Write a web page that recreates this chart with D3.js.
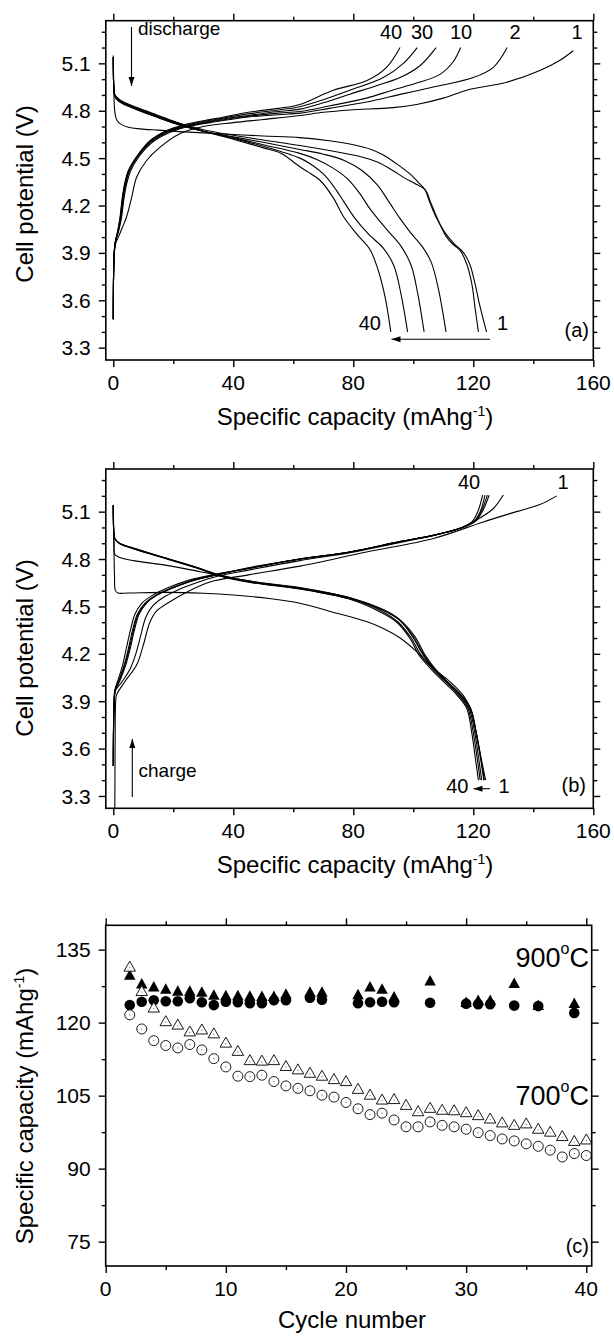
<!DOCTYPE html>
<html><head><meta charset="utf-8">
<script src="https://cdn.jsdelivr.net/npm/d3@7"></script>
<style>
body{margin:0;background:#fff}
text{font-family:Arial,"Liberation Sans",sans-serif;fill:#000}
</style></head>
<body><svg id="fig" width="614" height="1336"></svg>
<script>
// ---------------- DATA ----------------
// tick labels
const capTicks = [0, 40, 80, 120, 160];
const capMinor = [20, 60, 100, 140];
const voltTicks = [3.3, 3.6, 3.9, 4.2, 4.5, 4.8, 5.1];
const voltMinor = [3.4, 3.5, 3.7, 3.8, 4.0, 4.1, 4.3, 4.4, 4.6, 4.7, 4.9, 5.0, 5.2, 5.3];
const cycleTicks = [0, 10, 20, 30, 40];
const cycleMinor = [5, 15, 25, 35];
const specTicks = [75, 90, 105, 120, 135];
const specMinor = [82.5, 97.5, 112.5, 127.5];

// panel (a) 700 C: charge curves [capacity mAh/g, potential V]
const a_chg_1 = [[0,3.48],[0.3,3.88],[0.8,3.96],[1.7,4.0],[3,4.06],[4.4,4.127],[6.1,4.25],[7.8,4.38],[11.1,4.485],[15.6,4.57],[22.2,4.655],[30,4.70],[40,4.725],[50,4.745],[62.2,4.77],[70,4.79],[78.9,4.805],[93.3,4.82],[101.1,4.84],[110,4.88],[117.8,4.93],[131.1,4.98],[142.2,5.055],[148.9,5.12],[153.3,5.18]];
const a_chg_2 = [[0,3.48],[0.2,3.85],[0.6,3.96],[1.8,4.04],[2.7,4.12],[3.6,4.25],[4.5,4.34],[5.8,4.42],[8.6,4.51],[13,4.60],[18.6,4.66],[24,4.695],[34,4.73],[45,4.76],[55,4.775],[62.2,4.785],[72,4.815],[84.4,4.855],[96,4.905],[106.7,4.95],[120,5.01],[126.7,5.075],[131.3,5.20]];
const a_chg_10 = [[0,3.48],[0.2,3.85],[0.6,3.96],[1.7,4.04],[2.5,4.12],[3.4,4.25],[4.2,4.34],[5.4,4.42],[8.2,4.51],[12.6,4.60],[18.2,4.665],[23.6,4.698],[34,4.735],[45,4.765],[55,4.785],[62.2,4.795],[72,4.83],[84.4,4.88],[93,4.93],[101.1,4.975],[108.9,5.03],[113.3,5.11],[115.8,5.20]];
const a_chg_20 = [[0,3.48],[0.2,3.85],[0.6,3.96],[1.6,4.04],[2.4,4.12],[3.2,4.25],[4.0,4.34],[5.2,4.42],[8.0,4.51],[12.4,4.605],[18,4.668],[23.5,4.70],[34,4.74],[45,4.77],[55,4.795],[62.2,4.81],[70,4.85],[78.9,4.905],[88,4.96],[95.6,5.01],[102.2,5.085],[107.6,5.20]];
const a_chg_30 = [[0,3.48],[0.2,3.85],[0.6,3.96],[1.5,4.04],[2.3,4.12],[3.1,4.25],[3.9,4.34],[5.1,4.42],[7.9,4.51],[12.3,4.605],[17.9,4.67],[23.4,4.705],[34,4.745],[45,4.78],[55,4.805],[62.2,4.825],[70,4.87],[78.9,4.93],[90,5.01],[96.7,5.10],[101.3,5.20]];
const a_chg_40 = [[0,3.48],[0.2,3.85],[0.6,3.96],[1.5,4.04],[2.2,4.12],[3.0,4.25],[3.8,4.34],[5,4.42],[7.8,4.51],[12.2,4.61],[17.8,4.675],[23.3,4.71],[34,4.75],[45,4.79],[55,4.815],[62.2,4.84],[73.3,4.93],[84.4,4.99],[91.1,5.075],[95.6,5.20]];
// panel (a): discharge curves
const a_dis_1 = [[0,5.15],[0.15,4.95],[0.3,4.85],[0.6,4.78],[1.2,4.74],[2.5,4.715],[5,4.695],[9,4.685],[15,4.677],[22,4.668],[30,4.66],[40,4.65],[50,4.64],[62.2,4.63],[72,4.61],[80,4.585],[86,4.555],[90,4.52],[94,4.47],[98.9,4.40],[101.5,4.35],[103.9,4.30],[105.5,4.22],[107.5,4.13],[110.5,4.03],[113.5,3.96],[116.8,3.90],[118.8,3.83],[120.4,3.72],[122,3.58],[123.3,3.48],[124.4,3.40]];
const a_dis_2 = [[0,5.14],[0.15,4.95],[0.4,4.9],[1,4.875],[3,4.85],[8,4.81],[15,4.76],[22,4.72],[30,4.68],[40,4.645],[50,4.615],[62.2,4.58],[72,4.548],[82.2,4.51],[88,4.475],[93.3,4.42],[97,4.375],[100.5,4.34],[103.9,4.30],[105.8,4.22],[107.8,4.127],[111.1,4.0],[113.5,3.95],[115.6,3.916],[117.8,3.83],[119.5,3.705],[120.6,3.55],[121.7,3.40]];
const a_dis_10 = [[0,5.14],[0.15,4.95],[0.4,4.9],[1,4.875],[3,4.845],[8,4.805],[15,4.755],[22,4.71],[30,4.67],[40,4.635],[50,4.60],[62.2,4.555],[70,4.525],[77,4.485],[83,4.42],[88,4.33],[92,4.22],[95.5,4.12],[99,4.03],[103,3.94],[106,3.84],[108.5,3.66],[110.9,3.40]];
const a_dis_20 = [[0,5.14],[0.15,4.95],[0.4,4.9],[1,4.88],[3,4.85],[8,4.81],[15,4.76],[22,4.71],[30,4.67],[40,4.63],[50,4.585],[62.2,4.53],[68,4.49],[73,4.44],[78,4.37],[82,4.28],[85.5,4.18],[88,4.12],[92,4.03],[96,3.94],[99.3,3.82],[101.5,3.64],[103.6,3.40]];
const a_dis_30 = [[0,5.14],[0.15,4.95],[0.4,4.9],[1,4.885],[3,4.855],[8,4.815],[15,4.765],[22,4.715],[30,4.67],[40,4.625],[50,4.575],[62.2,4.50],[66,4.46],[70,4.40],[73.5,4.32],[77,4.22],[80.5,4.12],[85,4.02],[90,3.93],[93.5,3.82],[96,3.63],[98.1,3.40]];
const a_dis_40 = [[0,5.14],[0.15,4.95],[0.4,4.91],[1,4.89],[3,4.86],[8,4.82],[15,4.77],[22,4.72],[30,4.67],[40,4.62],[50,4.565],[56,4.53],[62.2,4.445],[66,4.40],[68.9,4.36],[73.3,4.25],[76.7,4.13],[81.1,4.02],[85.6,3.92],[88.3,3.79],[90.6,3.62],[92.5,3.40]];

// panel (b) 900 C: charge curves
const b_chg_1 = [[0.5,3.15],[0.6,3.6],[0.8,3.9],[1.1,3.94],[3.9,4.025],[7.8,4.13],[10,4.255],[12.2,4.40],[14.4,4.47],[18.9,4.53],[24.4,4.59],[32.2,4.655],[45,4.70],[62.2,4.755],[84.4,4.845],[106.7,4.93],[123.3,5.035],[134.4,5.10],[142.2,5.145],[147.8,5.20]];
const b_chg_2 = [[0,3.49],[0.3,3.88],[0.8,3.97],[2.8,4.02],[5.5,4.10],[7.5,4.2],[9.2,4.32],[10.8,4.43],[13,4.50],[16.5,4.555],[21,4.60],[27,4.645],[34.4,4.69],[45,4.73],[62.2,4.79],[78.9,4.84],[95.6,4.905],[106.7,4.95],[115.6,4.995],[122.2,5.06],[126.7,5.12],[130,5.205]];
const b_chg_10 = [[0,3.49],[0.25,3.87],[0.7,3.97],[2.2,4.03],[4,4.12],[5.6,4.23],[6.9,4.34],[8.6,4.45],[11,4.52],[14.5,4.57],[19,4.61],[26,4.66],[34.4,4.70],[45,4.74],[62.2,4.80],[78.9,4.845],[95.6,4.91],[106.7,4.95],[115.6,4.995],[120.5,5.035],[123,5.10],[125.3,5.205]];
const b_chg_20 = [[0,3.49],[0.22,3.86],[0.6,3.97],[2,4.03],[3.7,4.12],[5.3,4.23],[6.6,4.34],[8.3,4.45],[10.8,4.52],[14.2,4.57],[18.8,4.61],[25.8,4.66],[34.4,4.70],[45,4.742],[62.2,4.80],[78.9,4.845],[95.6,4.91],[106.7,4.95],[115.6,4.995],[120.2,5.035],[122.6,5.10],[124.7,5.205]];
const b_chg_30 = [[0,3.49],[0.2,3.86],[0.6,3.97],[1.8,4.03],[3.5,4.12],[5,4.23],[6.3,4.34],[8,4.45],[10.5,4.52],[14,4.57],[18.5,4.61],[25.5,4.66],[34.4,4.70],[45,4.745],[62.2,4.80],[78.9,4.845],[95.6,4.91],[106.7,4.95],[115.6,4.995],[120,5.035],[122.3,5.10],[123.9,5.205]];
const b_chg_40 = [[0,3.49],[0.2,3.85],[0.5,3.97],[1.5,4.03],[3,4.12],[4.4,4.24],[5.6,4.34],[7.2,4.45],[9.5,4.52],[13,4.57],[17.8,4.615],[25,4.665],[34.4,4.705],[45,4.74],[62.2,4.80],[78.9,4.845],[95.6,4.91],[106.7,4.95],[115.6,4.995],[119.5,5.035],[121.5,5.10],[123.1,5.205]];
// panel (b): discharge curves
const b_dis_1 = [[0,5.14],[0.2,4.9],[0.4,4.7],[0.7,4.6],[1.5,4.585],[5,4.585],[17.8,4.589],[30,4.583],[40,4.572],[52,4.55],[62.2,4.52],[72,4.47],[84.4,4.404],[90,4.36],[95.6,4.30],[101.1,4.214],[106.7,4.108],[112.2,4.024],[116.7,3.935],[119.3,3.84],[121,3.70],[122.5,3.55],[124.1,3.40]];
const b_dis_2 = [[0,5.14],[0.2,4.9],[0.5,4.83],[1.5,4.815],[6.7,4.79],[17.8,4.76],[28.9,4.72],[34.4,4.70],[45.6,4.66],[62.2,4.615],[78.9,4.555],[90,4.475],[95.6,4.41],[100,4.31],[103.3,4.20],[106.7,4.11],[111.1,4.025],[115.6,3.945],[119,3.86],[121,3.70],[122.4,3.55],[123.7,3.40]];
const b_dis_10 = [[0,5.14],[0.2,4.96],[0.5,4.93],[2,4.90],[6.7,4.87],[17.8,4.805],[28.9,4.74],[34.4,4.705],[45.6,4.66],[62.2,4.62],[78.9,4.555],[90,4.48],[95.6,4.415],[100.5,4.31],[104,4.19],[107.3,4.105],[111.6,4.02],[115.8,3.94],[119,3.855],[120.9,3.70],[122.3,3.55],[123.5,3.40]];
const b_dis_20 = [[0,5.14],[0.2,4.96],[0.5,4.93],[2,4.90],[6.7,4.868],[17.8,4.805],[28.9,4.74],[34.4,4.70],[45.6,4.655],[62.2,4.615],[78.9,4.55],[90,4.475],[95.6,4.41],[100,4.30],[103.3,4.19],[106.7,4.108],[111.1,4.024],[115.5,3.94],[118.6,3.855],[120.5,3.70],[121.7,3.55],[122.8,3.40]];
const b_dis_30 = [[0,5.14],[0.2,4.96],[0.5,4.93],[2,4.90],[6.7,4.866],[17.8,4.803],[28.9,4.738],[34.4,4.70],[45.6,4.655],[62.2,4.612],[78.9,4.548],[89.5,4.47],[95,4.40],[99.3,4.30],[102.6,4.19],[106.2,4.11],[110.6,4.025],[115,3.94],[118.2,3.855],[120,3.70],[121.2,3.55],[122.3,3.40]];
const b_dis_40 = [[0,5.14],[0.2,4.96],[0.5,4.93],[2,4.90],[6.7,4.865],[17.8,4.80],[28.9,4.735],[34.4,4.698],[45.6,4.652],[62.2,4.61],[78.9,4.545],[89,4.465],[94.5,4.40],[98.8,4.30],[102,4.19],[105.6,4.11],[110,4.025],[114.5,3.94],[117.8,3.855],[119.5,3.70],[120.6,3.55],[121.7,3.40]];

// panel (c): specific capacity vs cycle number
const cycles700 = [2,3,4,5,6,7,8,9,10,11,12,13,14,15,16,17,18,19,20,21,22,23,24,25,26,27,28,29,30,31,32,33,34,35,36,37,38,39,40];
const charge700 = [131.6,126.6,123.2,120.4,119.7,118.3,118.7,117.9,116.0,114.3,112.4,112.3,112.4,111.2,110.5,109.8,109.2,108.5,108.1,106.5,105.3,104.3,104.4,103.2,101.9,102.6,102.2,102.1,101.7,101.1,100.4,99.6,99.1,99.4,98.3,97.7,96.8,95.8,96.1];
const discharge700 = [121.6,118.7,116.3,115.3,114.8,115.5,114.4,112.6,110.9,109.0,108.9,109.2,107.9,107.0,106.5,106.0,105.1,104.7,103.6,102.3,101.1,101.4,100.0,98.6,98.6,99.6,98.9,98.6,98.1,97.4,96.8,96.1,95.7,95.1,94.6,93.8,92.4,93.1,92.7];
const cycles900 = [2,3,4,5,6,7,8,9,10,11,12,13,14,15,17,18,21,22,23,24,27,30,31,32,34,36,39];
const charge900 = [129.9,128.1,127.5,127.0,126.6,126.6,126.4,125.8,125.7,125.7,125.6,125.5,125.5,126.0,126.4,126.4,125.9,127.5,127.0,125.4,128.7,124.3,124.7,124.7,128.2,123.7,124.1];
const discharge900 = [123.6,124.3,124.6,124.4,124.4,125.0,124.2,123.6,124.3,124.2,124.0,124.0,124.6,124.6,125.1,124.7,124.0,124.2,124.3,124.2,124.1,123.9,123.8,123.8,123.5,123.4,122.0];

// ---------------- DRAWING ----------------
const svg = d3.select("#fig");

function drawFrame(g, x, y, xT, xM, yT, yM, fmtY) {
  const [x0, x1] = x.range(), [y0, y1] = y.range();
  const mk = (make, scale, major, minor, tr) => {
    const a1 = g.append("g").attr("transform", tr).call(make(scale).tickValues(major).tickSize(7).tickFormat(""));
    const a2 = g.append("g").attr("transform", tr).call(make(scale).tickValues(minor).tickSize(4).tickFormat(""));
    [a1, a2].forEach(a => { a.select(".domain").remove(); a.selectAll("line").attr("stroke","#000").attr("stroke-width",1.4); });
  };
  mk(d3.axisBottom, x, xT, xM, `translate(0,${y0})`);
  mk(d3.axisTop, x, xT, xM, `translate(0,${y1})`);
  mk(d3.axisLeft, y, yT, yM, `translate(${x0},0)`);
  mk(d3.axisRight, y, yT, yM, `translate(${x1},0)`);
  g.append("rect").attr("x", x0).attr("y", y1).attr("width", x1 - x0).attr("height", y0 - y1)
    .attr("fill", "none").attr("stroke", "#000").attr("stroke-width", 1.6);
  g.selectAll(null).data(xT).enter().append("text")
    .attr("x", d => x(d)).attr("y", y0 + 29.5).attr("text-anchor", "middle")
    .attr("font-size", 21).text(d => d);
  g.selectAll(null).data(yT).enter().append("text")
    .attr("x", x0 - 15).attr("y", d => y(d)).attr("dy", "0.36em").attr("text-anchor", "end")
    .attr("font-size", 21).text(fmtY);
}

function xTitle(g, cx, yb, main, sup) {
  const t = g.append("text").attr("x", cx).attr("y", yb).attr("text-anchor", "middle").attr("font-size", 24);
  t.append("tspan").text(main);
  if (sup) {
    t.append("tspan").attr("dy", -9).attr("font-size", 14).text(sup);
    t.append("tspan").attr("dy", 9).text(")");
  }
}
function yTitle(g, xb, cy, main, sup) {
  const t = g.append("text").attr("transform", `translate(${xb},${cy}) rotate(-90)`)
    .attr("text-anchor", "middle").attr("font-size", 24);
  t.append("tspan").text(main);
  if (sup) {
    t.append("tspan").attr("dy", -9).attr("font-size", 14).text(sup);
    t.append("tspan").attr("dy", 9).text(")");
  }
}
function arrow(g, x1, y1, x2, y2) {
  g.append("line").attr("x1", x1).attr("y1", y1).attr("x2", x2).attr("y2", y2)
    .attr("stroke", "#000").attr("stroke-width", 1.1);
  const ang = Math.atan2(y2 - y1, x2 - x1), L = 9, w = 3;
  const bx = x2 - L * Math.cos(ang), by = y2 - L * Math.sin(ang);
  const px = -Math.sin(ang) * w, py = Math.cos(ang) * w;
  g.append("path").attr("d", `M${x2},${y2}L${bx + px},${by + py}L${bx - px},${by - py}Z`).attr("fill", "#000");
}
function label(g, x, y, txt, anchor, size) {
  g.append("text").attr("x", x).attr("y", y).attr("text-anchor", anchor || "middle")
    .attr("font-size", size || 20).text(txt);
}

const fmtV = d3.format(".1f");

function voltagePanel(id, top, bottom, charges, discharges) {
  const g = svg.append("g");
  const x = d3.scaleLinear().domain([-2.5, 160]).range([105.8, 593.3]);
  const y = d3.scaleLinear().domain([3.222, 5.37]).range([bottom, top]);
  g.append("clipPath").attr("id", id).append("rect")
    .attr("x", 105.8).attr("y", top).attr("width", 593.3 - 105.8).attr("height", bottom - top);
  const line = d3.line().x(d => x(d[0])).y(d => y(d[1])).curve(d3.curveCatmullRom.alpha(0.5));
  const cg = g.append("g").attr("clip-path", `url(#${id})`);
  charges.concat(discharges).forEach(c => {
    cg.append("path").attr("d", line(c)).attr("fill", "none").attr("stroke", "#000").attr("stroke-width", 1.1);
  });
  drawFrame(g, x, y, capTicks, capMinor, voltTicks, voltMinor, fmtV);
  return { g, x, y };
}

const A = voltagePanel("clipA", 20.7, 360,
  [a_chg_1, a_chg_2, a_chg_10, a_chg_20, a_chg_30, a_chg_40],
  [a_dis_1, a_dis_2, a_dis_10, a_dis_20, a_dis_30, a_dis_40]);
xTitle(A.g, 355, 425, "Specific capacity (mAhg", "-1");
yTitle(A.g, 33, 194, "Cell potential (V)");
label(A.g, 138, 35, "discharge", "start", 19);
arrow(A.g, 131.5, 27, 131.5, 86);
label(A.g, 391, 38.5, "40"); label(A.g, 422, 38.5, "30"); label(A.g, 461, 38.5, "10");
label(A.g, 515, 38.5, "2"); label(A.g, 577, 38.5, "1");
label(A.g, 381, 330, "40", "end"); label(A.g, 497, 330, "1", "start");
arrow(A.g, 490, 339.3, 391.5, 339.3);
label(A.g, 589, 337, "(a)", "end");

const B = voltagePanel("clipB", 469, 808.3,
  [b_chg_1, b_chg_2, b_chg_10, b_chg_20, b_chg_30, b_chg_40],
  [b_dis_1, b_dis_2, b_dis_10, b_dis_20, b_dis_30, b_dis_40]);
xTitle(B.g, 355, 873, "Specific capacity (mAhg", "-1");
yTitle(B.g, 33, 648, "Cell potential (V)");
label(B.g, 138.5, 776.5, "charge", "start", 19);
arrow(B.g, 132.3, 797, 132.3, 739);
label(B.g, 469, 489, "40"); label(B.g, 563, 489, "1");
label(B.g, 468.5, 793, "40", "end"); label(B.g, 498.5, 793, "1", "start");
arrow(B.g, 490, 788.7, 473.5, 788.7);
label(B.g, 586, 791.5, "(b)", "end");

{
  const g = svg.append("g");
  const x = d3.scaleLinear().domain([0, 40.45]).range([105.7, 591.7]);
  const y = d3.scaleLinear().domain([70, 140]).range([1266, 925.3]);
  const tri = (cx, cy, w, h) => `M${cx},${cy - h / 2}L${cx + w / 2},${cy + h / 2}L${cx - w / 2},${cy + h / 2}Z`;
  const d900 = cycles900.map((c, i) => ({ c, ch: charge900[i], dis: discharge900[i] }));
  const d700 = cycles700.map((c, i) => ({ c, ch: charge700[i], dis: discharge700[i] }));
  g.selectAll(null).data(d900).enter().append("path")
    .attr("d", d => tri(x(d.c), y(d.ch), 11.5, 10.5)).attr("fill", "#000");
  g.selectAll(null).data(d900).enter().append("circle")
    .attr("cx", d => x(d.c)).attr("cy", d => y(d.dis)).attr("r", 5.3).attr("fill", "#000");
  g.selectAll(null).data(d700).enter().append("path")
    .attr("d", d => tri(x(d.c), y(d.ch), 11.5, 10)).attr("fill", "#fff").attr("stroke", "#000").attr("stroke-width", 0.9);
  g.selectAll(null).data(d700).enter().append("circle")
    .attr("cx", d => x(d.c)).attr("cy", d => y(d.dis)).attr("r", 5).attr("fill", "#fff").attr("stroke", "#000").attr("stroke-width", 0.9);
  g.selectAll(null).data(d700).enter().append("circle")
    .attr("cx", d => x(d.c)).attr("cy", d => y(d.dis)).attr("r", 0.6).attr("fill", "#666");
  g.selectAll(null).data(d700).enter().append("circle")
    .attr("cx", d => x(d.c)).attr("cy", d => y(d.ch) + 1.5).attr("r", 0.6).attr("fill", "#666");
  drawFrame(g, x, y, cycleTicks, cycleMinor, specTicks, specMinor, d => d);
  xTitle(g, 352, 1328, "Cycle number");
  yTitle(g, 33, 1106, "Specific capacity (mAhg", "-1");
  const t1 = g.append("text").attr("x", 589).attr("y", 967).attr("text-anchor", "end").attr("font-size", 27);
  t1.append("tspan").text("900");
  t1.append("tspan").attr("dy", -13).attr("font-size", 16).text("o");
  t1.append("tspan").attr("dy", 13).text("C");
  const t2 = g.append("text").attr("x", 589).attr("y", 1105).attr("text-anchor", "end").attr("font-size", 27);
  t2.append("tspan").text("700");
  t2.append("tspan").attr("dy", -13).attr("font-size", 16).text("o");
  t2.append("tspan").attr("dy", 13).text("C");
  label(g, 589, 1253, "(c)", "end");
}
</script></body></html>
